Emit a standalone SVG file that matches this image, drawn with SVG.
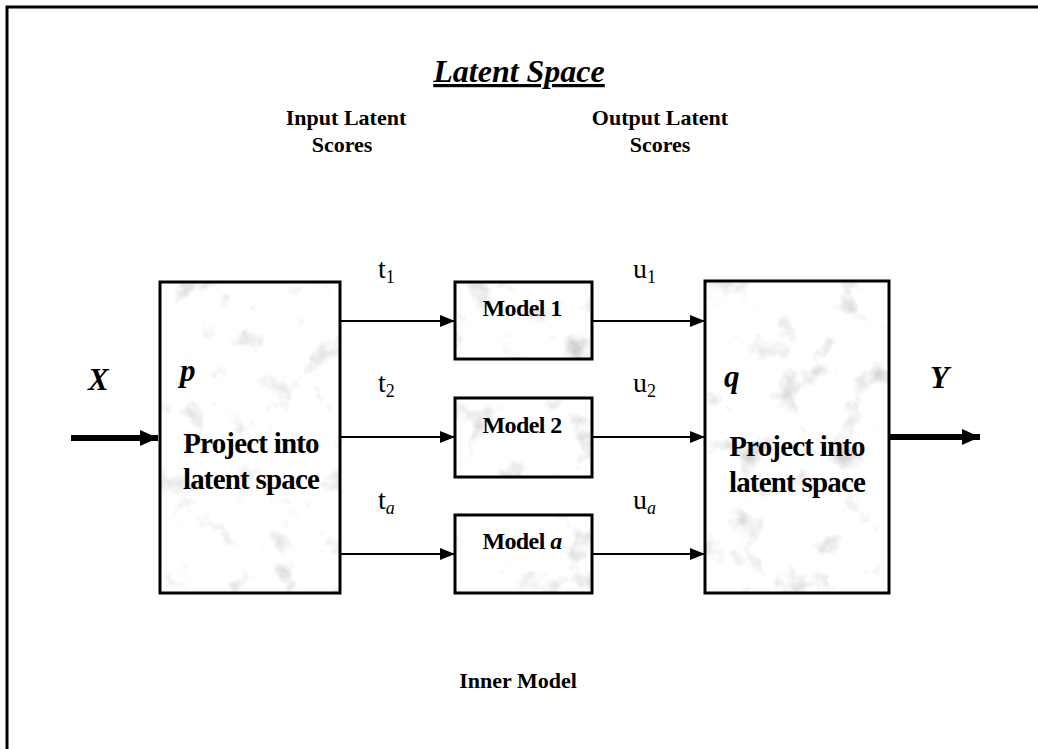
<svg xmlns="http://www.w3.org/2000/svg" width="1038" height="749" viewBox="0 0 1038 749">
  <style>
    .head { font-family: "Liberation Serif", serif; font-weight: bold; font-size: 22px; fill: #000; text-anchor: middle; }
    .title { font-family: "Liberation Serif", serif; font-weight: bold; font-style: italic; font-size: 32px; fill: #000; text-anchor: middle; text-decoration: underline; }
    .proj { font-family: "Liberation Serif", serif; font-weight: bold; font-size: 29px; fill: #000; text-anchor: middle; letter-spacing: -0.8px; }
    .model { font-family: "Liberation Serif", serif; font-weight: bold; font-size: 24px; fill: #000; text-anchor: middle; letter-spacing: -0.6px; }
    .score { font-family: "Liberation Serif", serif; font-size: 28px; fill: #000; }
    .sub { font-size: 18px; }
    .var { font-family: "Liberation Serif", serif; font-weight: bold; font-style: italic; font-size: 31px; fill: #000; }
    .box { fill: none; stroke: #000; stroke-width: 3; }
    .flow { stroke: #000; stroke-width: 2; fill: none; }
    .io { stroke: #000; stroke-width: 6; fill: none; }
  </style>
  <defs>
    <!-- faint mottled grey shading inside the blocks -->
    <filter id="speckle" x="0" y="0" width="100%" height="100%" filterUnits="objectBoundingBox">
      <feTurbulence type="fractalNoise" baseFrequency="0.03" numOctaves="4" seed="7" result="n"/>
      <feColorMatrix in="n" type="matrix" values="0 0 0 0 0.6  0 0 0 0 0.6  0 0 0 0 0.6  3 0 0 0 -1.75" result="g"/>
      <feFlood flood-color="#fff" result="w"/>
      <feComposite in="g" in2="w" operator="over"/>
    </filter>
    <marker id="arrow" markerUnits="userSpaceOnUse" markerWidth="16" markerHeight="14" refX="15" refY="7" orient="auto">
      <path d="M0,1 L15,7 L0,13 Z" fill="#000"/>
    </marker>
    <marker id="arrowBig" markerUnits="userSpaceOnUse" markerWidth="20" markerHeight="20" refX="18" refY="10" orient="auto">
      <path d="M0,2 L18,10 L0,18 Z" fill="#000"/>
    </marker>
  </defs>

  <rect x="0" y="0" width="1038" height="749" fill="#fff"/>

  <!-- outer frame: top and left edges -->
  <path d="M7,749 L7,7 L1038,7" fill="none" stroke="#000" stroke-width="3"/>

  <text class="title" x="519" y="82">Latent Space</text>

  <g id="input-scores-heading">
    <text class="head" x="346" y="125">Input Latent</text>
    <text class="head" x="342" y="152">Scores</text>
  </g>
  <g id="output-scores-heading">
    <text class="head" x="660" y="125">Output Latent</text>
    <text class="head" x="660" y="152">Scores</text>
  </g>

  <!-- connectors -->
  <g id="connectors">
    <line class="io" x1="71" y1="438" x2="158" y2="438" marker-end="url(#arrowBig)"/>
    <line class="flow" x1="340" y1="321" x2="455" y2="321" marker-end="url(#arrow)"/>
    <line class="flow" x1="340" y1="437" x2="455" y2="437" marker-end="url(#arrow)"/>
    <line class="flow" x1="340" y1="554" x2="455" y2="554" marker-end="url(#arrow)"/>
    <line class="flow" x1="592" y1="321" x2="705" y2="321" marker-end="url(#arrow)"/>
    <line class="flow" x1="592" y1="437" x2="705" y2="437" marker-end="url(#arrow)"/>
    <line class="flow" x1="592" y1="554" x2="705" y2="554" marker-end="url(#arrow)"/>
    <line class="io" x1="889" y1="437" x2="980" y2="437" marker-end="url(#arrowBig)"/>

    <text class="score" x="378" y="278">t<tspan class="sub" dy="5">1</tspan></text>
    <text class="score" x="378" y="392">t<tspan class="sub" dy="5">2</tspan></text>
    <text class="score" x="378" y="509">t<tspan class="sub" dy="5" font-style="italic">a</tspan></text>
    <text class="score" x="633" y="278">u<tspan class="sub" dy="5">1</tspan></text>
    <text class="score" x="633" y="392">u<tspan class="sub" dy="5">2</tspan></text>
    <text class="score" x="633" y="509">u<tspan class="sub" dy="5" font-style="italic">a</tspan></text>

    <text class="var" x="88" y="390">X</text>
    <text class="var" x="930" y="388">Y</text>
  </g>

  <g id="project-x">
    <rect x="160" y="282" width="180" height="311" fill="#fff" filter="url(#speckle)"/>
    <rect class="box" x="160" y="282" width="180" height="311"/>
    <text class="var" x="180" y="381">p</text>
    <text class="proj" x="251" y="453">Project into</text>
    <text class="proj" x="251" y="489">latent space</text>
  </g>

  <g id="model-1">
    <rect x="455" y="282" width="137" height="77" fill="#fff" filter="url(#speckle)"/>
    <rect class="box" x="455" y="282" width="137" height="77"/>
    <text class="model" x="522" y="316">Model 1</text>
  </g>

  <g id="model-2">
    <rect x="455" y="398" width="137" height="79" fill="#fff" filter="url(#speckle)"/>
    <rect class="box" x="455" y="398" width="137" height="79"/>
    <text class="model" x="522" y="433">Model 2</text>
  </g>

  <g id="model-a">
    <rect x="455" y="515" width="137" height="78" fill="#fff" filter="url(#speckle)"/>
    <rect class="box" x="455" y="515" width="137" height="78"/>
    <text class="model" x="522" y="549">Model <tspan font-style="italic">a</tspan></text>
  </g>

  <g id="project-y">
    <rect x="705" y="281" width="184" height="312" fill="#fff" filter="url(#speckle)"/>
    <rect class="box" x="705" y="281" width="184" height="312"/>
    <text class="var" x="724" y="387">q</text>
    <text class="proj" x="797" y="456">Project into</text>
    <text class="proj" x="797" y="492">latent space</text>
  </g>

  <text class="head" x="518" y="688">Inner Model</text>
</svg>
